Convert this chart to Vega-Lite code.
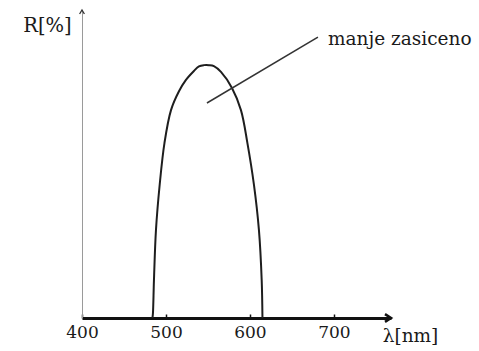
{
  "$schema": "https://vega.github.io/schema/vega-lite/v6.json",
  "autosize": "none",
  "padding": {"left": 82, "top": 10, "right": 88, "bottom": 33},
  "width": 309,
  "height": 308,
  "background": "white",
  "config": {"view": {"stroke": null}, "font": "DejaVu Serif"},
  "datasets": {
    "curve": [
      {"lambda": 483.9, "R": 0},
      {"lambda": 484.5, "R": 1.6},
      {"lambda": 485.7, "R": 12.3},
      {"lambda": 488.1, "R": 28.6},
      {"lambda": 492.6, "R": 43.5},
      {"lambda": 498.2, "R": 56.8},
      {"lambda": 506.0, "R": 67.5},
      {"lambda": 515.5, "R": 73.6},
      {"lambda": 523.8, "R": 77.3},
      {"lambda": 533.3, "R": 80.2},
      {"lambda": 539.3, "R": 81.7},
      {"lambda": 545.2, "R": 82.1},
      {"lambda": 551.2, "R": 82.1},
      {"lambda": 557.1, "R": 81.8},
      {"lambda": 565.5, "R": 79.9},
      {"lambda": 578.6, "R": 74.7},
      {"lambda": 589.3, "R": 67.5},
      {"lambda": 597.0, "R": 56.8},
      {"lambda": 604.8, "R": 43.2},
      {"lambda": 610.7, "R": 28.6},
      {"lambda": 614.0, "R": 12.3},
      {"lambda": 614.9, "R": 0}
    ],
    "pointer": [
      {"lambda": 548.8, "R": 69.8},
      {"lambda": 681, "R": 91.2}
    ],
    "label": [{"lambda": 693, "R": 88.6, "text": "manje zasiceno"}],
    "xarrow": [{"lambda": 768, "R": 0}],
    "yarrow": [{"lambda": 400, "R": 100}]
  },
  "layer": [
    {
      "data": {"name": "curve"},
      "mark": {"type": "line", "interpolate": "catmull-rom", "color": "#1e1e1e", "strokeWidth": 2},
      "encoding": {
        "x": {
          "field": "lambda", "type": "quantitative",
          "scale": {"domain": [400, 768], "nice": false, "zero": false},
          "axis": {
            "values": [400, 500, 600, 700],
            "grid": false,
            "labelFlush": false,
            "domainColor": "#111111", "domainWidth": 3,
            "tickColor": "#111111", "tickWidth": 1.5, "tickSize": -4,
            "labelFont": "DejaVu Serif", "labelFontSize": 17, "labelColor": "#1a1a1a",
            "labelPadding": 10,
            "title": "λ[nm]", "titleFont": "DejaVu Serif", "titleFontSize": 18.5,
            "titleFontWeight": "normal", "titleColor": "#1a1a1a",
            "titleX": 328, "titleY": 17, "titleAlign": "center", "titleBaseline": "middle"
          }
        },
        "y": {
          "field": "R", "type": "quantitative",
          "scale": {"domain": [0, 100], "nice": false},
          "axis": {
            "grid": false, "ticks": false, "labels": false,
            "domainColor": "#9a9a9a", "domainWidth": 1,
            "title": "R[%]", "titleFont": "DejaVu Serif", "titleFontSize": 19.5,
            "titleFontWeight": "normal", "titleColor": "#1a1a1a", "titleAngle": 0,
            "titleX": -35, "titleY": 15, "titleAlign": "center", "titleBaseline": "middle"
          }
        }
      }
    },
    {
      "data": {"name": "pointer"},
      "mark": {"type": "line", "color": "#333333", "strokeWidth": 1.5},
      "encoding": {
        "x": {"field": "lambda", "type": "quantitative"},
        "y": {"field": "R", "type": "quantitative"}
      }
    },
    {
      "data": {"name": "label"},
      "mark": {"type": "text", "align": "left", "baseline": "alphabetic", "font": "DejaVu Serif", "fontSize": 18.5, "color": "#1a1a1a"},
      "encoding": {
        "x": {"field": "lambda", "type": "quantitative"},
        "y": {"field": "R", "type": "quantitative"},
        "text": {"field": "text"}
      }
    },
    {
      "data": {"name": "xarrow"},
      "mark": {"type": "point", "shape": "M -1 -0.65 L 0 0 L -1 0.65", "size": 144, "filled": false, "stroke": "#111111", "strokeWidth": 2.5, "opacity": 1},
      "encoding": {
        "x": {"field": "lambda", "type": "quantitative"},
        "y": {"field": "R", "type": "quantitative"}
      }
    },
    {
      "data": {"name": "yarrow"},
      "mark": {"type": "point", "shape": "M -0.6 1 L 0 0 L 0.6 1", "size": 64, "filled": false, "stroke": "#333333", "strokeWidth": 1.3, "opacity": 1},
      "encoding": {
        "x": {"field": "lambda", "type": "quantitative"},
        "y": {"field": "R", "type": "quantitative"}
      }
    }
  ]
}
